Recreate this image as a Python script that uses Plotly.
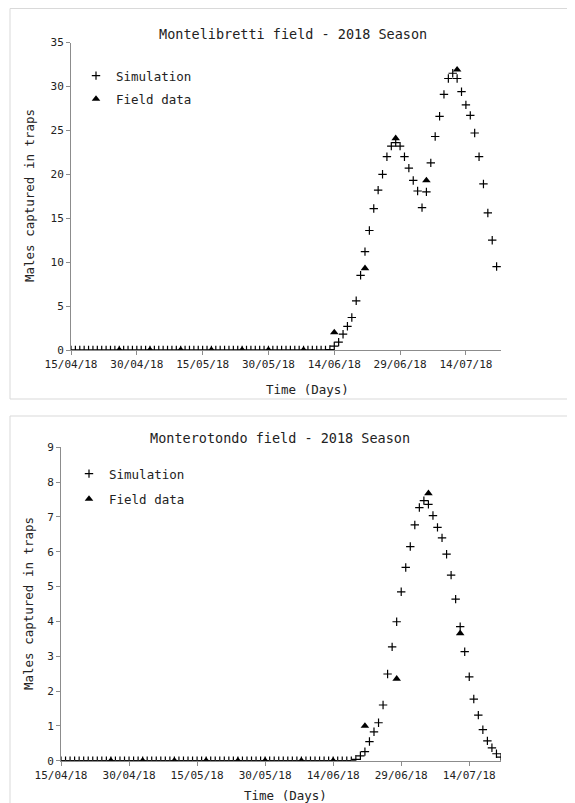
import pandas as pd
import plotly.graph_objects as go

# ---------------- data ----------------
START_DATE = "2018-04-15"

# Montelibretti – simulated daily captures (15/04/18 .. 21/07/18)
sim_montelibretti = [
    0, 0, 0, 0, 0, 0, 0, 0, 0, 0,
    0, 0, 0, 0, 0, 0, 0, 0, 0, 0,
    0, 0, 0, 0, 0, 0, 0, 0, 0, 0,
    0, 0, 0, 0, 0, 0, 0, 0, 0, 0,
    0, 0, 0, 0, 0, 0, 0, 0, 0, 0,
    0, 0, 0, 0, 0, 0, 0, 0, 0, 0.05,
    0.45, 0.9, 1.8, 2.7, 3.7, 5.6, 8.5, 11.2, 13.6, 16.1,
    18.2, 20.0, 22.0, 23.2, 23.6, 23.2, 22.0, 20.7, 19.3, 18.1,
    16.2, 18.0, 21.3, 24.3, 26.6, 29.1, 30.9, 31.5, 30.9, 29.4,
    27.9, 26.7, 24.7, 22.0, 18.9, 15.6, 12.5, 9.5,
]

# Monterotondo – simulated daily captures (15/04/18 .. 21/07/18)
sim_monterotondo = [
    0, 0, 0, 0, 0, 0, 0, 0, 0, 0,
    0, 0, 0, 0, 0, 0, 0, 0, 0, 0,
    0, 0, 0, 0, 0, 0, 0, 0, 0, 0,
    0, 0, 0, 0, 0, 0, 0, 0, 0, 0,
    0, 0, 0, 0, 0, 0, 0, 0, 0, 0,
    0, 0, 0, 0, 0, 0, 0, 0, 0, 0,
    0, 0, 0, 0, 0, 0.04, 0.14, 0.26, 0.55, 0.83,
    1.09, 1.6, 2.49, 3.27, 3.99, 4.85, 5.55, 6.15, 6.77, 7.27,
    7.47, 7.36, 7.04, 6.70, 6.40, 5.93, 5.33, 4.64, 3.85, 3.13,
    2.41, 1.77, 1.31, 0.89, 0.57, 0.37, 0.20, 0.10,
]

# Field trap counts (weekly)
field_dates = [
    "2018-04-26", "2018-05-03", "2018-05-10", "2018-05-17", "2018-05-24",
    "2018-05-30", "2018-06-07", "2018-06-14", "2018-06-21", "2018-06-28",
    "2018-07-05", "2018-07-12",
]
field_montelibretti = [0, 0, 0, 0, 0, 0, 0, 2.0, 9.3, 24.1, 19.3, 31.9]
field_monterotondo = [0, 0, 0, 0, 0, 0, 0, 0, 1.0, 2.35, 7.68, 3.66]

tick_dates = ["2018-04-15", "2018-04-30", "2018-05-15", "2018-05-30",
              "2018-06-14", "2018-06-29", "2018-07-14"]
tick_labels = ["15/04/18", "30/04/18", "15/05/18", "30/05/18",
               "14/06/18", "29/06/18", "14/07/18"]

titles = ["Montelibretti field - 2018 Season", "Monterotondo field - 2018 Season"]
x_title = "Time (Days)"
y_title = "Males captured in traps"
legend_names = ["Simulation", "Field data"]

# ---------------- figure ----------------
# The page body has an 8px default margin; the figure is sized to fill the
# remaining window and all positions below are given in window pixels.
OFF = 8
W, H = 575 - OFF, 803 - OFF
FONT = "DejaVu Sans Mono"
TXT = "#222222"
AX = "#8c8c8c"


def px(x):
    return (x - OFF) / W


def py(y):
    return 1 - (y - OFF) / H


sim_dates_top = pd.date_range(START_DATE, periods=len(sim_montelibretti), freq="D")
sim_dates_bot = pd.date_range(START_DATE, periods=len(sim_monterotondo), freq="D")

fig = go.Figure()

cross = dict(symbol="cross-thin", size=6, color="black",
             line=dict(width=1.2, color="black"))
tri = dict(symbol="triangle-up", size=7.5, color="black",
           line=dict(width=0))

fig.add_trace(go.Scatter(x=sim_dates_top, y=sim_montelibretti, mode="markers",
                         marker=cross, name=legend_names[0], legend="legend",
                         legendgroup="a", xaxis="x", yaxis="y"))
fig.add_trace(go.Scatter(x=field_dates, y=field_montelibretti, mode="markers",
                         marker=tri, name=legend_names[1], legend="legend",
                         legendgroup="b", xaxis="x", yaxis="y"))
fig.add_trace(go.Scatter(x=sim_dates_bot, y=sim_monterotondo, mode="markers",
                         marker=cross, name=legend_names[0], legend="legend2",
                         legendgroup="c", xaxis="x2", yaxis="y2"))
fig.add_trace(go.Scatter(x=field_dates, y=field_monterotondo, mode="markers",
                         marker=tri, name=legend_names[1], legend="legend2",
                         legendgroup="d", xaxis="x2", yaxis="y2"))

xcommon = dict(type="date", tickvals=tick_dates, ticktext=tick_labels,
               automargin=False,
               showgrid=False, zeroline=False, showline=True, linecolor=AX,
               linewidth=1, ticks="outside", ticklen=4, tickcolor=AX,
               tickfont=dict(family=FONT, size=11, color=TXT))
ycommon = dict(showgrid=False, zeroline=False, showline=True, linecolor=AX,
               automargin=False,
               linewidth=1, ticks="outside", ticklen=4, tickcolor=AX, dtick=1,
               tickfont=dict(family=FONT, size=11, color=TXT))

fig.update_layout(
    width=W, height=H,
    margin=dict(l=0, r=0, t=0, b=0, autoexpand=False),
    paper_bgcolor="white", plot_bgcolor="white",
    showlegend=True,
    xaxis=dict(xcommon, domain=[px(71), px(501)], anchor="y",
               range=["2018-04-15", "2018-07-22"]),
    yaxis=dict(ycommon, domain=[py(350), py(42.5)], anchor="x",
               range=[0, 35], dtick=5),
    xaxis2=dict(xcommon, domain=[px(61), px(501)], anchor="y2",
                range=["2018-04-15", "2018-07-21"]),
    yaxis2=dict(ycommon, domain=[py(760.7), py(447.3)], anchor="x2",
                range=[0, 9], dtick=1),
    legend=dict(x=px(76), y=py(61), xanchor="left", yanchor="top",
                bgcolor="rgba(0,0,0,0)", itemwidth=30, tracegroupgap=4,
                traceorder="grouped",
                font=dict(family=FONT, size=12.5, color=TXT)),
    legend2=dict(x=px(69), y=py(459), xanchor="left", yanchor="top",
                 bgcolor="rgba(0,0,0,0)", itemwidth=30, tracegroupgap=6,
                 traceorder="grouped",
                 font=dict(family=FONT, size=12.5, color=TXT)),
    shapes=[
        dict(type="rect", xref="paper", yref="paper",
             x0=px(10), x1=px(576), y0=py(399), y1=py(8.5),
             line=dict(color="#d9d9d9", width=1), layer="below"),
        dict(type="rect", xref="paper", yref="paper",
             x0=px(10), x1=px(576), y0=py(806), y1=py(416),
             line=dict(color="#d9d9d9", width=1), layer="below"),
    ],
)

ann_font = dict(family=FONT, color=TXT)
annotations = [
    dict(text=titles[0], x=px(292.5), y=py(34), font=dict(ann_font, size=13.5)),
    dict(text=titles[1], x=px(280), y=py(438), font=dict(ann_font, size=13.5)),
    dict(text=x_title, x=px(307.5), y=py(389), font=dict(ann_font, size=12.5)),
    dict(text=x_title, x=px(285), y=py(795), font=dict(ann_font, size=12.5)),
    dict(text=y_title, x=px(30), y=py(196), textangle=-90,
         font=dict(ann_font, size=12.5)),
    dict(text=y_title, x=px(28), y=py(604), textangle=-90,
         font=dict(ann_font, size=12.5)),
]
for a in annotations:
    fig.add_annotation(xref="paper", yref="paper", showarrow=False,
                       xanchor="center", yanchor="middle", **a)

fig.write_html("out.html")
